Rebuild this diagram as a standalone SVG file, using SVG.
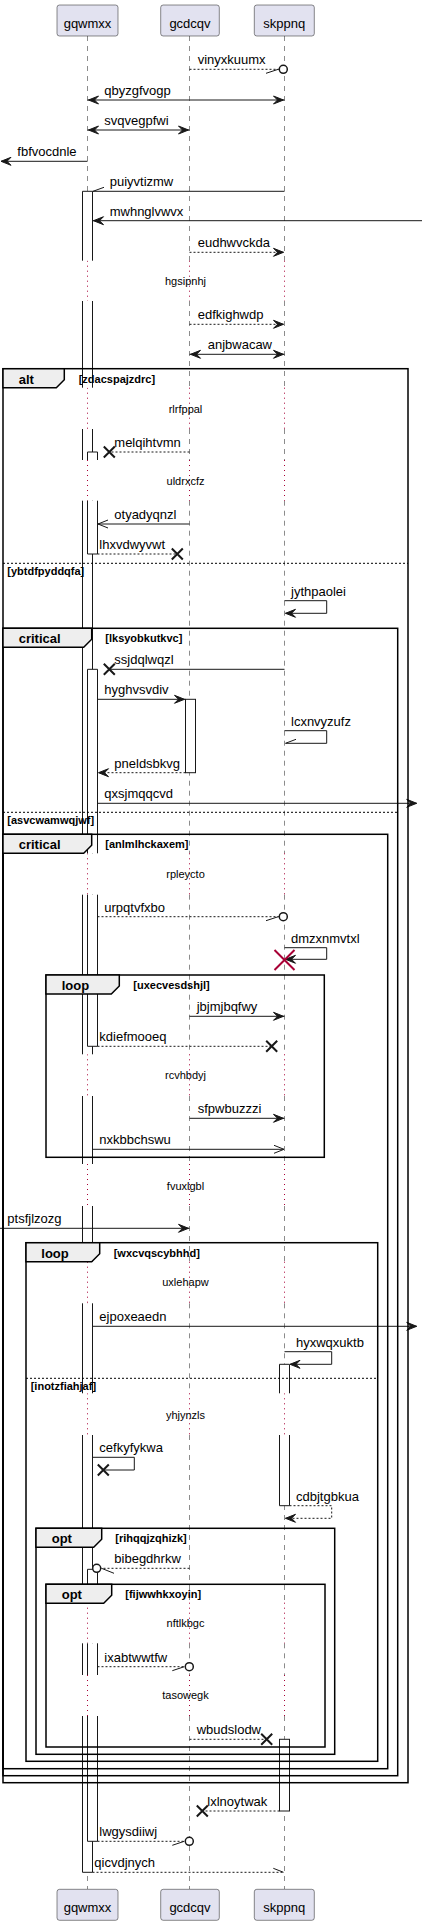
<svg xmlns="http://www.w3.org/2000/svg" width="422" height="1925" viewBox="0 0 422 1925">
<style>
text{font-family:"Liberation Sans",Arial,sans-serif;fill:#000}
.t{font-size:13px}
.dt{font-size:11px}
.b13{font-size:13px;font-weight:bold}
.b11{font-size:11px;font-weight:bold}
.ll{stroke:#181818;stroke-width:0.5;stroke-dasharray:5,5;fill:none}
.dl{stroke:#A80036;stroke-width:1;stroke-dasharray:1,4;fill:none}
.box{fill:#E2E2F0;stroke:#181818;stroke-width:0.5}
.af{fill:#fff;stroke:none}
.as{fill:none;stroke:#181818;stroke-width:1}
.m{stroke:#181818;stroke-width:1;fill:none}
.d{stroke-dasharray:2,2}
.ah{fill:#181818;stroke:#181818;stroke-width:1}
.x{stroke:#181818;stroke-width:2;fill:none}
.rx{stroke:#A80036;stroke-width:2;fill:none}
.c{stroke:#181818;stroke-width:1.5;fill:#fff}
.fr{fill:none;stroke:#000;stroke-width:1.5}
.tab{fill:#EEEEEE;stroke:#000;stroke-width:1.5}
.sep{stroke:#000;stroke-width:1;stroke-dasharray:2,2}
</style>

<g id="lifelines">
<path class="ll" d="M87.5,36V260.7M87.5,301V387.7M87.5,429V460M87.5,500.7V853.3M87.5,894.7V1054.3M87.5,1096V1164M87.5,1206V1261.7M87.5,1303.3V1393.3M87.5,1435V1602.7M87.5,1643.3V1675M87.5,1716V1889"/>
<path class="ll" d="M189.5,36V260.7M189.5,301V387.7M189.5,429V460M189.5,500.7V853.3M189.5,894.7V1054.3M189.5,1096V1164M189.5,1206V1261.7M189.5,1303.3V1393.3M189.5,1435V1602.7M189.5,1643.3V1675M189.5,1716V1889"/>
<path class="ll" d="M284.5,36V260.7M284.5,301V387.7M284.5,429V460M284.5,500.7V853.3M284.5,894.7V1054.3M284.5,1096V1164M284.5,1206V1261.7M284.5,1303.3V1393.3M284.5,1435V1602.7M284.5,1643.3V1675M284.5,1716V1889"/>
<path class="dl" d="M87.5,260.7V301M87.5,387.7V429M87.5,460V500.7M87.5,853.3V894.7M87.5,1054.3V1096M87.5,1164V1206M87.5,1261.7V1303.3M87.5,1393.3V1435M87.5,1602.7V1643.3M87.5,1675V1716"/>
<path class="dl" d="M189.5,260.7V301M189.5,387.7V429M189.5,460V500.7M189.5,853.3V894.7M189.5,1054.3V1096M189.5,1164V1206M189.5,1261.7V1303.3M189.5,1393.3V1435M189.5,1602.7V1643.3M189.5,1675V1716"/>
<path class="dl" d="M284.5,260.7V301M284.5,387.7V429M284.5,460V500.7M284.5,853.3V894.7M284.5,1054.3V1096M284.5,1164V1206M284.5,1261.7V1303.3M284.5,1393.3V1435M284.5,1602.7V1643.3M284.5,1675V1716"/>
</g>

<g id="delays">
<text class="dt" x="185.5" y="285" text-anchor="middle">hgsipnhj</text>
<text class="dt" x="185.5" y="412.7" text-anchor="middle">rlrfppal</text>
<text class="dt" x="185.5" y="485" text-anchor="middle">uldrxcfz</text>
<text class="dt" x="185.5" y="878.3" text-anchor="middle">rpleycto</text>
<text class="dt" x="185.5" y="1079.3" text-anchor="middle">rcvhbdyj</text>
<text class="dt" x="185.5" y="1190" text-anchor="middle">fvuxlgbl</text>
<text class="dt" x="185.5" y="1286" text-anchor="middle">uxlehapw</text>
<text class="dt" x="185.5" y="1418.7" text-anchor="middle">yhjynzls</text>
<text class="dt" x="185.5" y="1627.3" text-anchor="middle">nftlkbgc</text>
<text class="dt" x="185.5" y="1699" text-anchor="middle">tasowegk</text>
</g>

<g id="activations">
<g id="act-gqwmxx-1">
<path class="af" d="M82.5,191.3h10V260.7h-10ZM82.5,301h10V387.7h-10ZM82.5,429h10V460h-10ZM82.5,500.7h10V853.3h-10ZM82.5,894.7h10V1054.3h-10ZM82.5,1096h10V1164h-10ZM82.5,1206h10V1261.7h-10ZM82.5,1303.3h10V1393.3h-10ZM82.5,1435h10V1602.7h-10ZM82.5,1643.3h10V1675h-10ZM82.5,1716h10V1872.3h-10Z"/>
<path class="as" d="M82.5,191.3H92.5M82.5,191.3V260.7M92.5,191.3V260.7M82.5,301V387.7M92.5,301V387.7M82.5,429V460M92.5,429V460M82.5,500.7V853.3M92.5,500.7V853.3M82.5,894.7V1054.3M92.5,894.7V1054.3M82.5,1096V1164M92.5,1096V1164M82.5,1206V1261.7M92.5,1206V1261.7M82.5,1303.3V1393.3M92.5,1303.3V1393.3M82.5,1435V1602.7M92.5,1435V1602.7M82.5,1643.3V1675M92.5,1643.3V1675M82.5,1716V1872.3M92.5,1716V1872.3M82.5,1872.3H92.5"/>
</g>
<g id="act-gqwmxx-2">
<path class="af" d="M87.5,452h10V460h-10ZM87.5,500.7h10V554h-10Z"/>
<path class="as" d="M87.5,452H97.5M87.5,452V460M97.5,452V460M87.5,500.7V554M97.5,500.7V554M87.5,554H97.5"/>
</g>
<g id="act-gqwmxx-3">
<path class="af" d="M87.5,669.3h10V853.3h-10ZM87.5,894.7h10V1046.3h-10Z"/>
<path class="as" d="M87.5,669.3H97.5M87.5,669.3V853.3M97.5,669.3V853.3M87.5,894.7V1046.3M97.5,894.7V1046.3M87.5,1046.3H97.5"/>
</g>
<g id="act-gqwmxx-4">
<path class="af" d="M87.5,1569.3h10V1602.7h-10ZM87.5,1643.3h10V1675h-10ZM87.5,1716h10V1841.3h-10Z"/>
<path class="as" d="M87.5,1569.3H97.5M87.5,1569.3V1602.7M97.5,1569.3V1602.7M87.5,1643.3V1675M97.5,1643.3V1675M87.5,1716V1841.3M97.5,1716V1841.3M87.5,1841.3H97.5"/>
</g>
<g id="act-gcdcqv-1">
<rect class="af" x="185.5" y="699.3" width="10" height="73.4"/>
<rect class="as" x="185.5" y="699.3" width="10" height="73.4"/>
</g>
<g id="act-skppnq-1">
<path class="af" d="M279.5,1364.3h10V1393.3h-10ZM279.5,1435h10V1505.7h-10Z"/>
<path class="as" d="M279.5,1364.3H289.5M279.5,1364.3V1393.3M289.5,1364.3V1393.3M279.5,1435V1505.7M289.5,1435V1505.7M279.5,1505.7H289.5"/>
</g>
<g id="act-skppnq-2">
<rect class="af" x="279.5" y="1739.3" width="10" height="71.7"/>
<rect class="as" x="279.5" y="1739.3" width="10" height="71.7"/>
</g>
</g>

<g id="connectors">
<g id="m-vinyxkuumx"><path class="m d" d="M189.5,69.3H279.3"/><circle class="c" cx="283.3" cy="69.3" r="4"/><path class="m" d="M266,73.3L278.3,69.3"/><text class="t" x="197.7" y="64.3">vinyxkuumx</text></g>
<g id="m-qbyzgfvogp"><path class="m" d="M87.5,100H284.5"/><polygon class="ah" points="88.5,100 98.5,96 94.5,100 98.5,104"/><polygon class="ah" points="283.5,100 273.5,96 277.5,100 273.5,104"/><text class="t" x="104.3" y="95">qbyzgfvogp</text></g>
<g id="m-svqvegpfwi"><path class="m" d="M87.5,130H189.5"/><polygon class="ah" points="88.5,130 98.5,126 94.5,130 98.5,134"/><polygon class="ah" points="188.5,130 178.5,126 182.5,130 178.5,134"/><text class="t" x="104.3" y="125">svqvegpfwi</text></g>
<g id="m-fbfvocdnle"><path class="m" d="M87.5,161.3H1"/><polygon class="ah" points="1,161.3 11,157.3 7,161.3 11,165.3"/><text class="t" x="17.3" y="156.3">fbfvocdnle</text></g>
<g id="m-puiyvtizmw"><path class="m" d="M284.5,191.3H92.5"/><path class="m" d="M93,191.3L104,187.3"/><text class="t" x="109.7" y="186.3">puiyvtizmw</text></g>
<g id="m-mwhnglvwvx"><path class="m" d="M422,220.7H92.5"/><polygon class="ah" points="93.5,220.7 103.5,216.7 99.5,220.7 103.5,224.7"/><text class="t" x="109.7" y="215.7">mwhnglvwvx</text></g>
<g id="m-eudhwvckda"><path class="m d" d="M189.5,252.3H284.5"/><polygon class="ah" points="283.5,252.3 273.5,248.3 277.5,252.3 273.5,256.3"/><text class="t" x="197.7" y="247.3">eudhwvckda</text></g>
<g id="m-edfkighwdp"><path class="m d" d="M189.5,324.3H284.5"/><polygon class="ah" points="283.5,324.3 273.5,320.3 277.5,324.3 273.5,328.3"/><text class="t" x="197.7" y="319.3">edfkighwdp</text></g>
<g id="m-anjbwacaw"><path class="m" d="M189.5,354.3H284.5"/><polygon class="ah" points="190.5,354.3 200.5,350.3 196.5,354.3 200.5,358.3"/><polygon class="ah" points="283.5,354.3 273.5,350.3 277.5,354.3 273.5,358.3"/><text class="t" x="207.7" y="349.3">anjbwacaw</text></g>
<g id="m-melqihtvmn"><path class="m d" d="M189.5,452H109.3"/><path class="x" d="M103.8,446.5L114.8,457.5M103.8,457.5L114.8,446.5"/><text class="t" x="114.3" y="447">melqihtvmn</text></g>
<g id="m-otyadyqnzl"><path class="m" d="M189.5,524H97.5"/><path class="m" d="M108,520L98,524L108,528"/><text class="t" x="114.3" y="519">otyadyqnzl</text></g>
<g id="m-lhxvdwyvwt"><path class="m d" d="M97.5,554H177.3"/><path class="x" d="M171.8,548.5L182.8,559.5M171.8,559.5L182.8,548.5"/><text class="t" x="99.3" y="549">lhxvdwyvwt</text></g>
<g id="m-jythpaolei"><path class="m" d="M284.5,600.7H326.7V613.3H285.5"/><polygon class="ah" points="285.5,613.3 295.5,609.3 291.5,613.3 295.5,617.3"/><text class="t" x="291" y="595.7">jythpaolei</text></g>
<g id="m-ssjdqlwqzl"><path class="m" d="M284.5,669.3H109.3"/><path class="x" d="M103.8,663.8L114.8,674.8M103.8,674.8L114.8,663.8"/><text class="t" x="114.3" y="664.3">ssjdqlwqzl</text></g>
<g id="m-hyghvsvdiv"><path class="m" d="M97.5,699.3H185.5"/><polygon class="ah" points="184.5,699.3 174.5,695.3 178.5,699.3 174.5,703.3"/><text class="t" x="104.3" y="694.3">hyghvsvdiv</text></g>
<g id="m-lcxnvyzufz"><path class="m" d="M284.5,730.7H326.7V743.3H285.5"/><path class="m" d="M285.5,743.3L296,739.3"/><text class="t" x="291" y="725.7">lcxnvyzufz</text></g>
<g id="m-pneldsbkvg"><path class="m d" d="M185.5,772.7H97.5"/><polygon class="ah" points="98.5,772.7 108.5,768.7 104.5,772.7 108.5,776.7"/><text class="t" x="114.3" y="767.7">pneldsbkvg</text></g>
<g id="m-qxsjmqqcvd"><path class="m" d="M97.5,803.3H416.7"/><polygon class="ah" points="416.7,803.3 406.7,799.3 410.7,803.3 406.7,807.3"/><text class="t" x="104.3" y="798.3">qxsjmqqcvd</text></g>
<g id="m-urpqtvfxbo"><path class="m d" d="M97.5,916.7H279.3"/><circle class="c" cx="283.3" cy="916.7" r="4"/><path class="m" d="M266,920.7L278.3,916.7"/><text class="t" x="104.3" y="911.7">urpqtvfxbo</text></g>
<g id="m-dmzxnmvtxl"><path class="m" d="M284.5,947.7H326.7V959.3H285.5"/><polygon class="ah" points="285.5,959.3 295.5,955.3 291.5,959.3 295.5,963.3"/><path class="rx" d="M274.5,950L294.5,970M274.5,970L294.5,950"/><text class="t" x="291" y="942.7">dmzxnmvtxl</text></g>
<g id="m-jbjmjbqfwy"><path class="m" d="M189.5,1016.3H284.5"/><polygon class="ah" points="283.5,1016.3 273.5,1012.3 277.5,1016.3 273.5,1020.3"/><text class="t" x="196.7" y="1011.3">jbjmjbqfwy</text></g>
<g id="m-kdiefmooeq"><path class="m d" d="M97.5,1046.3H271.7"/><path class="x" d="M266.2,1040.8L277.2,1051.8M266.2,1051.8L277.2,1040.8"/><text class="t" x="99.3" y="1041.3">kdiefmooeq</text></g>
<g id="m-sfpwbuzzzi"><path class="m" d="M189.5,1118.3H284.5"/><polygon class="ah" points="283.5,1118.3 273.5,1114.3 277.5,1118.3 273.5,1122.3"/><text class="t" x="197.7" y="1113.3">sfpwbuzzzi</text></g>
<g id="m-nxkbbchswu"><path class="m" d="M92.5,1149.3H284"/><path class="m" d="M274,1145.3L284,1149.3L274,1153.3"/><text class="t" x="99.3" y="1144.3">nxkbbchswu</text></g>
<g id="m-ptsfjlzozg"><path class="m" d="M0,1228.3H189.5"/><polygon class="ah" points="188.5,1228.3 178.5,1224.3 182.5,1228.3 178.5,1232.3"/><text class="t" x="7.3" y="1223.3">ptsfjlzozg</text></g>
<g id="m-ejpoxeaedn"><path class="m" d="M92.5,1326.3H416.7"/><polygon class="ah" points="416.7,1326.3 406.7,1322.3 410.7,1326.3 406.7,1330.3"/><text class="t" x="99.3" y="1321.3">ejpoxeaedn</text></g>
<g id="m-hyxwqxuktb"><path class="m" d="M284.5,1351.7H331.7V1364.3H290"/><polygon class="ah" points="290,1364.3 300,1360.3 296,1364.3 300,1368.3"/><text class="t" x="296" y="1346.7">hyxwqxuktb</text></g>
<g id="m-cefkyfykwa"><path class="m" d="M92.5,1457.3H134.3V1470H103.3"/><path class="x" d="M97.8,1464.5L108.8,1475.5M97.8,1475.5L108.8,1464.5"/><text class="t" x="99.3" y="1452.3">cefkyfykwa</text></g>
<g id="m-cdbjtgbkua"><path class="m d" d="M289.5,1505.7H331.7V1518.3H285.5"/><polygon class="ah" points="285.5,1518.3 295.5,1514.3 291.5,1518.3 295.5,1522.3"/><text class="t" x="296" y="1500.7">cdbjtgbkua</text></g>
<g id="m-bibegdhrkw"><path class="m d" d="M189.5,1568.3H100.7"/><circle class="c" cx="96.7" cy="1568.3" r="4"/><path class="m" d="M101.5,1568.3L114,1573.3"/><text class="t" x="114.3" y="1563.3">bibegdhrkw</text></g>
<g id="m-ixabtwwtfw"><path class="m d" d="M97.5,1666.7H185.3"/><circle class="c" cx="189.3" cy="1666.7" r="4"/><path class="m" d="M172.3,1670.7L184.3,1666.7"/><text class="t" x="104.3" y="1661.7">ixabtwwtfw</text></g>
<g id="m-wbudslodw"><path class="m d" d="M189.5,1739.3H266.7"/><path class="x" d="M261.2,1733.8L272.2,1744.8M261.2,1744.8L272.2,1733.8"/><text class="t" x="196.7" y="1734.3">wbudslodw</text></g>
<g id="m-lxlnoytwak"><path class="m d" d="M279.5,1811H202.3"/><path class="x" d="M196.8,1805.5L207.8,1816.5M196.8,1816.5L207.8,1805.5"/><text class="t" x="207.3" y="1806">lxlnoytwak</text></g>
<g id="m-lwgysdiiwj"><path class="m d" d="M97.5,1841.3H185.3"/><circle class="c" cx="189.3" cy="1841.3" r="4"/><path class="m" d="M172.3,1845.3L184.3,1841.3"/><text class="t" x="99.3" y="1836.3">lwgysdiiwj</text></g>
<g id="m-qicvdjnych"><path class="m d" d="M92.5,1872.3H284.5"/><path class="m" d="M273.3,1868.3L283.5,1872.3"/><text class="t" x="94.3" y="1867.3">qicvdjnych</text></g>
</g>

<g id="frames">
<g id="alt-zdacspajzdrc">
<rect class="fr" x="3" y="368.7" width="405" height="1414"/>
<polygon class="tab" points="3,368.7 64.3,368.7 64.3,379.7 56.3,387.7 3,387.7"/>
<text class="b13" x="18.7" y="383.7">alt</text>
<text class="b11" x="78.7" y="382.7">[zdacspajzdrc]</text>
<line class="sep" x1="3" y1="563.3" x2="408" y2="563.3"/>
<text class="b11" x="7.3" y="575">[ybtdfpyddqfa]</text>
</g>
<g id="critical-lksyobkutkvc">
<rect class="fr" x="3" y="628.3" width="394.7" height="1147.4"/>
<polygon class="tab" points="3,628.3 91.7,628.3 91.7,639.3 83.7,647.3 3,647.3"/>
<text class="b13" x="18.7" y="643.3">critical</text>
<text class="b11" x="105.3" y="642.3">[lksyobkutkvc]</text>
<line class="sep" x1="3" y1="812.3" x2="397.7" y2="812.3"/>
<text class="b11" x="7.3" y="823.8">[asvcwamwqjwf]</text>
</g>
<g id="critical-anlmlhckaxem">
<rect class="fr" x="3" y="834.3" width="384.7" height="934.4"/>
<polygon class="tab" points="3,834.3 91.7,834.3 91.7,845.3 83.7,853.3 3,853.3"/>
<text class="b13" x="18.7" y="849.3">critical</text>
<text class="b11" x="105.3" y="848.3">[anlmlhckaxem]</text>
</g>
<g id="loop-uxecvesdshjl">
<rect class="fr" x="46" y="975" width="278.3" height="182.3"/>
<polygon class="tab" points="46,975 119.3,975 119.3,986 111.3,994 46,994"/>
<text class="b13" x="61.7" y="990">loop</text>
<text class="b11" x="133.3" y="989">[uxecvesdshjl]</text>
</g>
<g id="loop-wxcvqscybhhd">
<rect class="fr" x="26" y="1242.7" width="351.7" height="518.6"/>
<polygon class="tab" points="26,1242.7 99.7,1242.7 99.7,1253.7 91.7,1261.7 26,1261.7"/>
<text class="b13" x="41.3" y="1257.7">loop</text>
<text class="b11" x="113.7" y="1256.7">[wxcvqscybhhd]</text>
<line class="sep" x1="26" y1="1378.3" x2="377.7" y2="1378.3"/>
<text class="b11" x="30.7" y="1390">[inotzfiahjaf]</text>
</g>
<g id="opt-rihqqjzqhizk">
<rect class="fr" x="36" y="1528.3" width="298.7" height="226"/>
<polygon class="tab" points="36,1528.3 101.7,1528.3 101.7,1539.3 93.7,1547.3 36,1547.3"/>
<text class="b13" x="51.7" y="1543.3">opt</text>
<text class="b11" x="115.3" y="1542.3">[rihqqjzqhizk]</text>
</g>
<g id="opt-fijwwhkxoyin">
<rect class="fr" x="46" y="1584.3" width="279" height="162.7"/>
<polygon class="tab" points="46,1584.3 111.7,1584.3 111.7,1595.3 103.7,1603.3 46,1603.3"/>
<text class="b13" x="61.7" y="1599.3">opt</text>
<text class="b11" x="125.3" y="1598.3">[fijwwhkxoyin]</text>
</g>
</g>

<g id="gqwmxx">
<rect class="box" x="57" y="5" width="61" height="31" rx="2.5"/>
<text class="t" x="87.5" y="28" text-anchor="middle">gqwmxx</text>
<rect class="box" x="57" y="1889.3" width="61" height="31" rx="2.5"/>
<text class="t" x="87.5" y="1912" text-anchor="middle">gqwmxx</text>
</g>
<g id="gcdcqv">
<rect class="box" x="160.7" y="5" width="58.6" height="31" rx="2.5"/>
<text class="t" x="190" y="28" text-anchor="middle">gcdcqv</text>
<rect class="box" x="160.7" y="1889.3" width="58.6" height="31" rx="2.5"/>
<text class="t" x="190" y="1912" text-anchor="middle">gcdcqv</text>
</g>
<g id="skppnq">
<rect class="box" x="254.3" y="5" width="60" height="31" rx="2.5"/>
<text class="t" x="284.3" y="28" text-anchor="middle">skppnq</text>
<rect class="box" x="254.3" y="1889.3" width="60" height="31" rx="2.5"/>
<text class="t" x="284.3" y="1912" text-anchor="middle">skppnq</text>
</g>
</svg>
